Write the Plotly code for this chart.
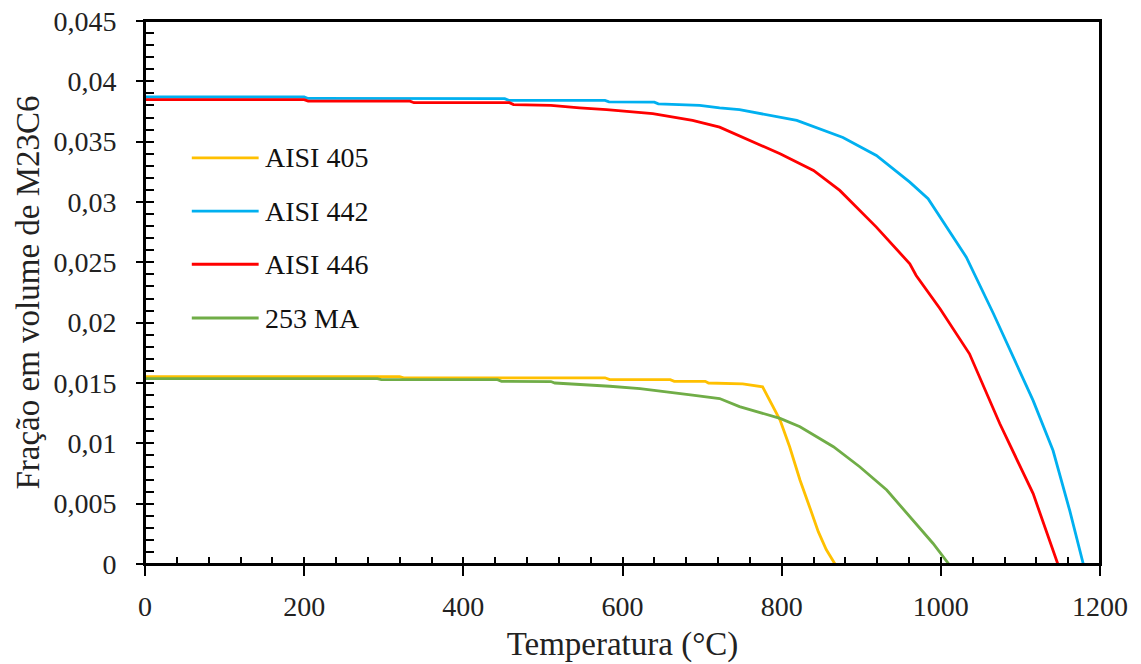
import plotly.graph_objects as go

# ---------------- data ----------------
series_names = ["AISI 405", "AISI 442", "AISI 446", "253 MA"]
series_colors = ["#FFC000", "#00B0F0", "#FF0000", "#70AD47"]

x_405 = [0, 320, 325, 578, 584, 660, 665, 704, 708, 745, 751, 776, 798, 810, 823, 835, 846, 856, 867]
y_405 = [0.01553, 0.01553, 0.01543, 0.01543, 0.01528, 0.01528, 0.01514, 0.01514, 0.01500, 0.01497,
         0.01492, 0.01469, 0.01193, 0.00972, 0.00696, 0.00475, 0.00268, 0.00120, 0.0]

x_442 = [0, 200, 205, 452, 457, 578, 583, 640, 645, 697, 722, 747, 819, 877, 919, 961, 984,
         1032, 1066, 1093, 1116, 1141, 1162, 1179]
y_442 = [0.03870, 0.03870, 0.03858, 0.03856, 0.03842, 0.03842, 0.03830, 0.03828, 0.03814, 0.03800,
         0.03780, 0.03765, 0.03676, 0.03535, 0.03386, 0.03165, 0.03027, 0.02543, 0.02076, 0.01686,
         0.01354, 0.00940, 0.00442, 0.0]

x_446 = [0, 200, 205, 333, 338, 458, 463, 510, 546, 580, 638, 688, 722, 743, 798, 840, 873, 919,
         961, 969, 999, 1036, 1074, 1116, 1147]
y_446 = [0.03848, 0.03848, 0.03836, 0.03836, 0.03823, 0.03823, 0.03807, 0.03800, 0.03780, 0.03765,
         0.03732, 0.03676, 0.03620, 0.03560, 0.03400, 0.03262, 0.03096, 0.02792, 0.02488, 0.02391,
         0.02115, 0.01742, 0.01164, 0.00583, 0.0]

x_253 = [0, 292, 297, 443, 448, 510, 515, 555, 584, 622, 663, 688, 722, 747, 798, 823, 865, 898,
         932, 965, 990, 1010]
y_253 = [0.01537, 0.01537, 0.01528, 0.01528, 0.01514, 0.01512, 0.01500, 0.01487, 0.01473, 0.01454,
         0.01423, 0.01400, 0.01371, 0.01304, 0.01207, 0.01138, 0.00972, 0.00806, 0.00613, 0.00365,
         0.00172, 0.0]

x_ticks = [0, 200, 400, 600, 800, 1000, 1200]
x_tick_labels = ["0", "200", "400", "600", "800", "1000", "1200"]
y_ticks = [0, 0.005, 0.01, 0.015, 0.02, 0.025, 0.03, 0.035, 0.04, 0.045]
y_tick_labels = ["0", "0,005", "0,01", "0,015", "0,02", "0,025", "0,03", "0,035", "0,04", "0,045"]

x_title = "Temperatura (°C)"
y_title = "Fração em volume de M23C6"

# ---------------- figure ----------------
FONT = "Liberation Serif"
fig = go.Figure()

xs = [x_405, x_442, x_446, x_253]
ys = [y_405, y_442, y_446, y_253]
for name, color, xv, yv in zip(series_names, series_colors, xs, ys):
    fig.add_trace(go.Scatter(x=xv, y=yv, mode="lines", name=name,
                             line=dict(color=color, width=2.8), showlegend=False))

# empty trace for the overlay axes carrying the inner halves of major ticks
fig.add_trace(go.Scatter(x=[], y=[], xaxis="x2", yaxis="y2", showlegend=False, hoverinfo="skip"))

# plot frame
fig.add_shape(type="rect", xref="paper", yref="paper", x0=0, x1=1, y0=0, y1=1,
              line=dict(color="#000", width=2), layer="above")

# custom legend (long line samples like the reference)
legend_y = [0.748, 0.650, 0.552, 0.453]
for name, color, ly in zip(series_names, series_colors, legend_y):
    fig.add_shape(type="line", xref="paper", yref="paper", x0=0.049, x1=0.119, y0=ly, y1=ly,
                  line=dict(color=color, width=2.8))
    fig.add_annotation(xref="paper", yref="paper", x=0.124, y=ly, text=name, showarrow=False,
                       xanchor="left", yanchor="middle", font=dict(family=FONT, size=28, color="#111"))

fig.update_layout(
    width=1141, height=664,
    margin=dict(l=145, r=41, t=21, b=100),
    paper_bgcolor="white", plot_bgcolor="white",
    font=dict(family=FONT, color="#111"),
    xaxis=dict(range=[0, 1200], tickvals=x_ticks, ticktext=x_tick_labels, automargin=False,
               ticks="outside", ticklen=10, tickwidth=2, tickcolor="#000",
               showline=True, linecolor="#000", linewidth=2, mirror=True,
               showgrid=False, zeroline=False, ticklabeloverflow="allow",
               tickfont=dict(family=FONT, size=28, color="#222"),
               ticklabelstandoff=6,
               minor=dict(dtick=40, tick0=0, ticks="inside", ticklen=7, tickwidth=2, tickcolor="#000", showgrid=False),
               title=dict(text=x_title, font=dict(family=FONT, size=33, color="#222"), standoff=11)),
    yaxis=dict(range=[0, 0.045], tickvals=y_ticks, ticktext=y_tick_labels, automargin=False,
               ticks="outside", ticklen=7, tickwidth=2, tickcolor="#000",
               showline=True, linecolor="#000", linewidth=2, mirror=True,
               showgrid=False, zeroline=False, ticklabeloverflow="allow",
               tickfont=dict(family=FONT, size=28, color="#222"),
               ticklabelstandoff=14,
               minor=dict(dtick=0.001, tick0=0, ticks="inside", ticklen=9, tickwidth=2, tickcolor="#000", showgrid=False),
               title=dict(text=y_title, font=dict(family=FONT, size=33, color="#222"), standoff=4)),
    xaxis2=dict(overlaying="x", anchor="y", range=[0, 1200], tickvals=x_ticks, ticks="inside",
                ticklen=7, tickwidth=2, tickcolor="#000", showticklabels=False, showline=False,
                showgrid=False, zeroline=False, automargin=False),
    yaxis2=dict(overlaying="y", anchor="x", range=[0, 0.045], tickvals=y_ticks, ticks="inside",
                ticklen=9, tickwidth=2, tickcolor="#000", showticklabels=False, showline=False,
                showgrid=False, zeroline=False, automargin=False),
)

# remove the browser's default 8px body margin so the figure sits at the page origin
fig.write_html("out.html",
               config={"displayModeBar": False},
               post_script="document.body.style.margin='0';document.body.style.padding='0';")
